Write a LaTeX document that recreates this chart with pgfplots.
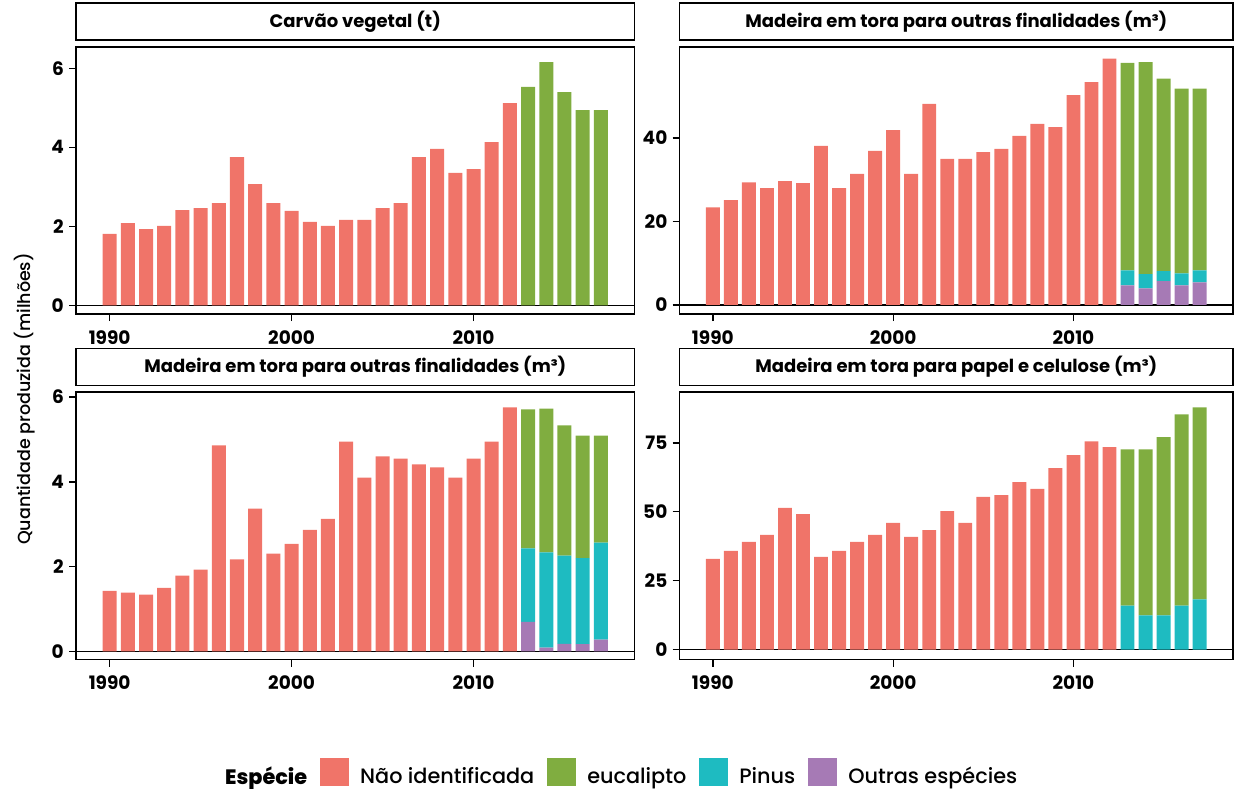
\documentclass[border=0pt]{standalone}
\usepackage{fontspec}
\setmainfont{Poppins}
\newfontfamily\medfont{Poppins Medium}
\usepackage{pgfplots}
\pgfplotsset{compat=1.18}
\usepackage{pgfplotstable}

\definecolor{cNid}{HTML}{F07469}
\definecolor{cEuc}{HTML}{80AD40}
\definecolor{cPin}{HTML}{1EBBC1}
\definecolor{cOut}{HTML}{A67AB5}

% Produção (milhões) por espécie
\pgfplotstableread{
year nid euc pin out
1990 1.81 0 0 0
1991 2.08 0 0 0
1992 1.93 0 0 0
1993 2.01 0 0 0
1994 2.41 0 0 0
1995 2.46 0 0 0
1996 2.59 0 0 0
1997 3.75 0 0 0
1998 3.07 0 0 0
1999 2.59 0 0 0
2000 2.39 0 0 0
2001 2.11 0 0 0
2002 2.01 0 0 0
2003 2.16 0 0 0
2004 2.16 0 0 0
2005 2.46 0 0 0
2006 2.59 0 0 0
2007 3.75 0 0 0
2008 3.96 0 0 0
2009 3.35 0 0 0
2010 3.45 0 0 0
2011 4.13 0 0 0
2012 5.12 0 0 0
2013 0 5.53 0 0
2014 0 6.16 0 0
2015 0 5.40 0 0
2016 0 4.94 0 0
2017 0 4.94 0 0
}\carvao

\pgfplotstableread{
year nid euc pin out
1990 23.4 0 0 0
1991 25.1 0 0 0
1992 29.4 0 0 0
1993 28.0 0 0 0
1994 29.7 0 0 0
1995 29.2 0 0 0
1996 38.1 0 0 0
1997 28.0 0 0 0
1998 31.4 0 0 0
1999 36.9 0 0 0
2000 41.9 0 0 0
2001 31.4 0 0 0
2002 48.2 0 0 0
2003 35.0 0 0 0
2004 35.0 0 0 0
2005 36.6 0 0 0
2006 37.4 0 0 0
2007 40.5 0 0 0
2008 43.4 0 0 0
2009 42.6 0 0 0
2010 50.3 0 0 0
2011 53.4 0 0 0
2012 59.0 0 0 0
2013 0 49.7 3.6 4.7
2014 0 50.8 3.4 4.0
2015 0 46.1 2.4 5.7
2016 0 44.2 2.9 4.7
2017 0 43.5 2.9 5.4
}\outrasA

\pgfplotstableread{
year nid euc pin out
1990 1.43 0 0 0
1991 1.39 0 0 0
1992 1.34 0 0 0
1993 1.50 0 0 0
1994 1.79 0 0 0
1995 1.93 0 0 0
1996 4.86 0 0 0
1997 2.17 0 0 0
1998 3.37 0 0 0
1999 2.31 0 0 0
2000 2.54 0 0 0
2001 2.87 0 0 0
2002 3.13 0 0 0
2003 4.95 0 0 0
2004 4.10 0 0 0
2005 4.60 0 0 0
2006 4.55 0 0 0
2007 4.41 0 0 0
2008 4.34 0 0 0
2009 4.10 0 0 0
2010 4.55 0 0 0
2011 4.95 0 0 0
2012 5.76 0 0 0
2013 0 3.28 1.73 0.70
2014 0 3.39 2.25 0.09
2015 0 3.07 2.08 0.18
2016 0 2.89 2.03 0.17
2017 0 2.52 2.29 0.28
}\outrasB

\pgfplotstableread{
year nid euc pin out
1990 32.9 0 0 0
1991 35.8 0 0 0
1992 39.1 0 0 0
1993 41.6 0 0 0
1994 51.4 0 0 0
1995 49.2 0 0 0
1996 33.7 0 0 0
1997 35.8 0 0 0
1998 39.1 0 0 0
1999 41.6 0 0 0
2000 46.0 0 0 0
2001 40.9 0 0 0
2002 43.4 0 0 0
2003 50.3 0 0 0
2004 46.0 0 0 0
2005 55.4 0 0 0
2006 56.1 0 0 0
2007 60.8 0 0 0
2008 58.3 0 0 0
2009 65.9 0 0 0
2010 70.6 0 0 0
2011 75.6 0 0 0
2012 73.5 0 0 0
2013 0 56.7 16.0 0
2014 0 60.3 12.4 0
2015 0 64.7 12.4 0
2016 0 69.4 16.0 0
2017 0 69.7 18.2 0
}\papel

\pgfplotsset{
  panel/.style={
    scale only axis,
    anchor=south west,
    ybar stacked,
    bar width=0.77,
    xmin=1988.15, xmax=2018.85,
    xtick={1990,2000,2010},
    tick pos=left,
    tick align=outside,
    major tick length=7pt,
    tick style={black, line width=1.3pt},
    axis line style={black, line width=1.5pt},
    /pgf/number format/assume math mode=true,
    /pgf/number format/1000 sep={},
    ticklabel style={font=\bfseries\fontsize{18.5}{21}\selectfont, inner sep=0pt},
    yticklabel style={anchor=east, xshift=-5pt},
    xticklabel style={anchor=north, yshift=-9pt},
    title style={at={(0.5,1)}, anchor=south, draw=black, line width=1.5pt,
      fill=white, inner sep=0pt, minimum height=37pt,
      font=\bfseries\fontsize{18}{20}\selectfont},
  },
  strip/.style={title style={minimum width=#1}},
}

\begin{document}
\begin{tikzpicture}
\useasboundingbox (0,0) rectangle (1236pt,-789pt);

% Carvão vegetal
\begin{axis}[panel, at={(76pt,-314pt)}, width=558.5pt, height=267pt,
  strip=558.5pt, title={Carvão vegetal (t)},
  ymin=-0.22, ymax=6.54, ytick={0,2,4,6}]
\addplot[fill=cEuc, draw=none] table[x=year, y=euc] {\carvao};
\addplot[fill=cNid, draw=none] table[x=year, y=nid] {\carvao};
\draw[black, line width=1.5pt] (axis cs:1988.15,0) -- (axis cs:2018.85,0);
\end{axis}

% Madeira em tora para outras finalidades
\begin{axis}[panel, at={(679.5pt,-314pt)}, width=553.5pt, height=267pt,
  strip=553.5pt, title={Madeira em tora para outras finalidades (m³)},
  ymin=-2.16, ymax=61.8, ytick={0,20,40}]
\addplot[fill=cOut, draw=none] table[x=year, y=out] {\outrasA};
\addplot[fill=cPin, draw=none] table[x=year, y=pin] {\outrasA};
\addplot[fill=cEuc, draw=none] table[x=year, y=euc] {\outrasA};
\addplot[fill=cNid, draw=none] table[x=year, y=nid] {\outrasA};
\draw[black, line width=1.5pt] (axis cs:1988.15,0) -- (axis cs:2018.85,0);
\end{axis}

% Madeira em tora para outras finalidades (segundo painel) + legenda
\begin{axis}[panel, at={(76pt,-659.5pt)}, width=558.5pt, height=267.5pt,
  strip=558.5pt, title={Madeira em tora para outras finalidades (m³)},
  ymin=-0.19, ymax=6.12, ytick={0,2,4,6},
  legend image code/.code={\fill[#1] (0pt,-10pt) rectangle (29pt,18pt);},
  legend columns=5,
  legend cell align=left,
  legend style={at={(0.2417,-0.421)}, anchor=west, draw=none, fill=none,
    font=\medfont\fontsize{20.8}{22}\selectfont,
    nodes={inner sep=0pt},
    /tikz/every even column/.append style={column sep=13pt},
    /tikz/every odd column/.append style={column sep=11pt}}]
\addplot[fill=cOut, draw=none, forget plot] table[x=year, y=out] {\outrasB};
\addplot[fill=cPin, draw=none, forget plot] table[x=year, y=pin] {\outrasB};
\addplot[fill=cEuc, draw=none, forget plot] table[x=year, y=euc] {\outrasB};
\addplot[fill=cNid, draw=none, forget plot] table[x=year, y=nid] {\outrasB};
\draw[black, line width=1.5pt] (axis cs:1988.15,0) -- (axis cs:2018.85,0);
\addlegendimage{empty legend}
\addlegendentry{\bfseries Espécie}
\addlegendimage{fill=cNid, draw=none}
\addlegendentry{Não identificada}
\addlegendimage{fill=cEuc, draw=none}
\addlegendentry{eucalipto}
\addlegendimage{fill=cPin, draw=none}
\addlegendentry{Pinus}
\addlegendimage{fill=cOut, draw=none}
\addlegendentry{Outras espécies}
\end{axis}

% Madeira em tora para papel e celulose
\begin{axis}[panel, at={(679.5pt,-659.5pt)}, width=553.5pt, height=267.5pt,
  strip=553.5pt, title={Madeira em tora para papel e celulose (m³)},
  ymin=-3.6, ymax=93.5, ytick={0,25,50,75}]
\addplot[fill=cOut, draw=none] table[x=year, y=out] {\papel};
\addplot[fill=cPin, draw=none] table[x=year, y=pin] {\papel};
\addplot[fill=cEuc, draw=none] table[x=year, y=euc] {\papel};
\addplot[fill=cNid, draw=none] table[x=year, y=nid] {\papel};
\draw[black, line width=1.5pt] (axis cs:1988.15,0) -- (axis cs:2018.85,0);
\end{axis}

\node[rotate=90, font=\medfont\fontsize{17.5}{20}\selectfont] at (25pt,-399pt)
  {Quantidade produzida (milhões)};
\end{tikzpicture}
\end{document}
